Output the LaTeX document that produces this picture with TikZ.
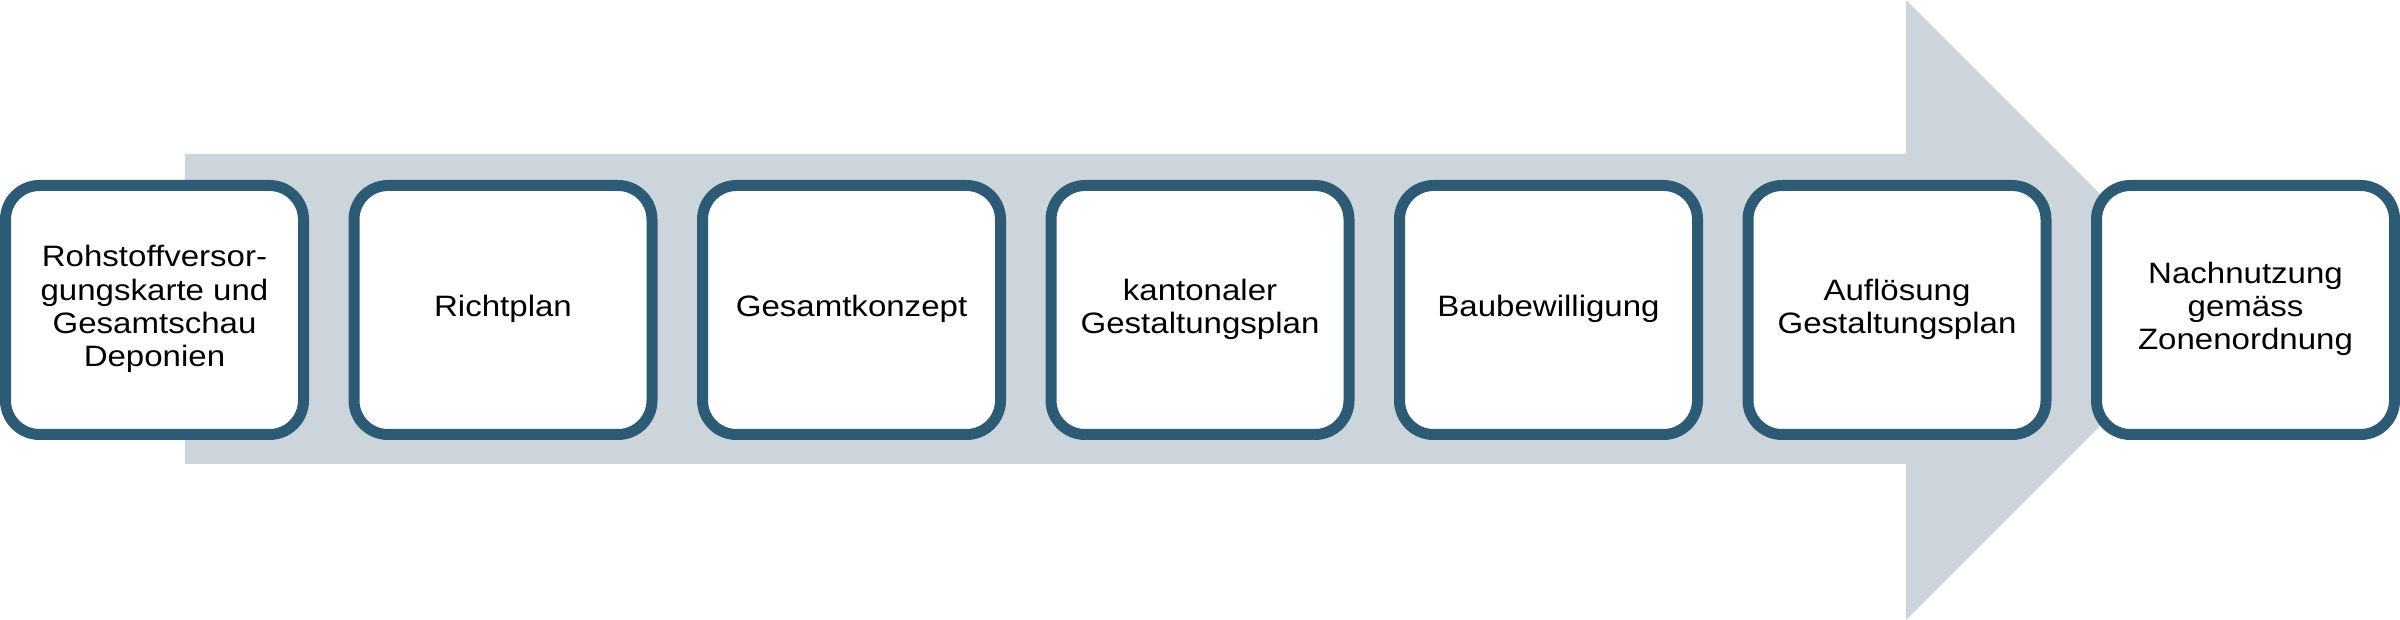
\documentclass[tikz,border=0pt]{standalone}
\usepackage{fontspec}
\setmainfont{Liberation Sans}[FakeStretch=1.12]
\definecolor{arrowgray}{HTML}{CDD5DC}
\definecolor{boxblue}{HTML}{2D5B76}
\begin{document}
\begin{tikzpicture}[x=1pt,y=1pt,
  stepbox/.style={draw=boxblue, line width=11pt, fill=white, rounded corners=34pt,
    minimum width=298pt, minimum height=249pt, inner sep=0pt, align=center,
    font=\fontsize{29.5}{33.3}\selectfont, text=black}]
\useasboundingbox (0,0) rectangle (2400,620);
\fill[arrowgray] (185,156) -- (1906,156) -- (1906,0) -- (2216,310) -- (1906,620) -- (1906,466) -- (185,466) -- cycle;
\node[stepbox] (s1) at (154.5,310) {\strut Rohstoffversor-\\gungskarte und\\Gesamtschau\\Deponien\strut};
\node[stepbox] (s2) at (503,310) {\strut Richtplan\strut};
\node[stepbox] (s3) at (851.5,310) {\strut Gesamtkonzept\strut};
\node[stepbox] (s4) at (1200,310) {\strut kantonaler\\Gestaltungsplan\strut};
\node[stepbox] (s5) at (1548.5,310) {\strut Baubewilligung\strut};
\node[stepbox] (s6) at (1897,310) {\strut Auflösung\\Gestaltungsplan\strut};
\node[stepbox] (s7) at (2245.5,310) {\strut Nachnutzung\\gemäss\\Zonenordnung\strut};
\end{tikzpicture}
\end{document}
